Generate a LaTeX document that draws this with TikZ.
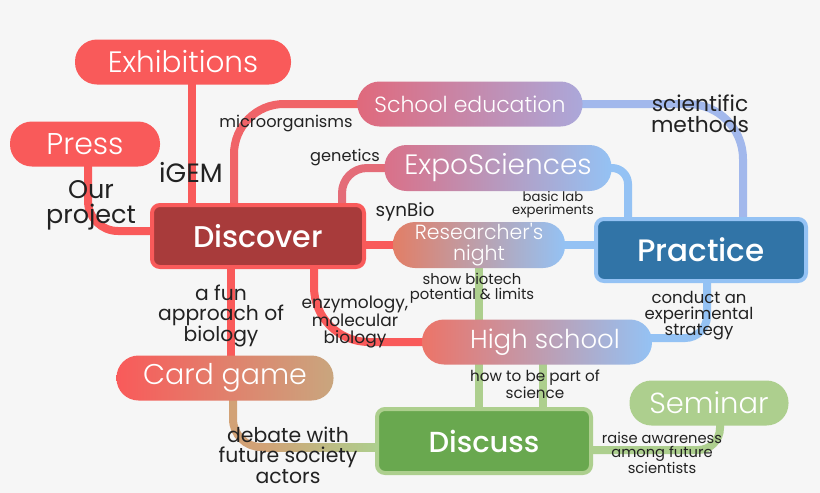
\documentclass[tikz,border=0pt]{standalone}
\usepackage{fontspec}
\usetikzlibrary{calc}
\IfFontExistsTF{Poppins Light}{\newfontfamily\fpl{Poppins Light}}{\newfontfamily\fpl{Poppins}}
\newfontfamily\fpr{Poppins}
\IfFontExistsTF{Poppins Medium}{\newfontfamily\fpm{Poppins Medium}}{\newfontfamily\fpm{Poppins}}
\newcommand\fsz[2]{\fontsize{#1}{#2}\selectfont}
\definecolor{bgc}{HTML}{F6F6F6}
\definecolor{cred}{HTML}{F95A5A}
\definecolor{cdred}{HTML}{A83B3B}
\definecolor{cschl}{HTML}{F06468}
\definecolor{cexpo}{HTML}{E46C78}
\definecolor{cblue}{HTML}{94C2F4}
\definecolor{cblue2}{HTML}{A2B8EC}
\definecolor{cdblue}{HTML}{3174A7}
\definecolor{cgreen}{HTML}{ADCF8E}
\definecolor{cdgreen}{HTML}{69A84F}
\definecolor{ccard}{HTML}{D2A276}
\definecolor{pinkl}{HTML}{E0697C}
\definecolor{lav}{HTML}{ABA8DA}
\definecolor{pinke}{HTML}{DA7088}
\definecolor{orng}{HTML}{E27E66}
\definecolor{orng2}{HTML}{EC7468}
\definecolor{tan}{HTML}{C9A67E}
\definecolor{labc}{HTML}{222222}
\pgfdeclarelayer{bg}
\pgfdeclarelayer{lines}
\pgfsetlayers{bg,lines,main}
\begin{document}
\begin{tikzpicture}[x=1pt,y=-1pt,
  pill/.style={rounded corners=22pt, minimum height=45pt, inner sep=0pt, text=white, font=\fpl\fsz{28}{30}},
  mainbox/.style={rounded corners=8pt, line width=4pt, inner sep=0pt, text=white, font=\fpm\fsz{30}{32}},
  lab/.style={text=labc, align=center, inner sep=0pt},
  conn/.style={line width=8pt}]
\begin{pgfonlayer}{bg}
\fill[bgc] (0,0) rectangle (820,493);
\end{pgfonlayer}
\useasboundingbox (0,0) rectangle (820,493);

% nodes
\node[pill, fill=cred, minimum width=216pt, font=\fpl\fsz{29.5}{30}] (exh) at (183,62) {Exhibitions};
\node[pill, fill=cred, minimum width=150pt, font=\fpl\fsz{30}{30}] (press) at (85,144) {Press};
\node[mainbox, fill=cdred, draw=cred, minimum width=212pt, minimum height=62pt] (disc) at (258,236) {Discover};
\node[pill, left color=pinkl, right color=lav, minimum width=225pt, font=\fpl\fsz{22}{24}] (school) at (470,104) {School education};
\node[pill, left color=pinke, right color=cblue, minimum width=227pt, minimum height=46pt] (expo) at (498,168) {ExpoSciences};
\node[pill, left color=orng, middle color=cgreen, right color=cblue, minimum width=172pt, minimum height=46pt, align=center, font=\fpl\fsz{20.5}{21}] (rn) at (479,245) {Researcher's\\night};
\node[mainbox, fill=cdblue, draw=cblue, minimum width=210pt, minimum height=62pt, font=\fpm\fsz{31}{32}] (prac) at (701,250) {Practice};
\node[pill, left color=orng2, middle color=cgreen, right color=cblue, minimum width=230pt, font=\fpl\fsz{26}{30}] (hs) at (537,342) {\hspace*{16pt}High school};
\node[pill, left color=cred, right color=tan, minimum width=217pt, font=\fpl\fsz{28.5}{30}] (card) at (225,378) {Card game};
\node[mainbox, fill=cdgreen, draw=cgreen, minimum width=214pt, minimum height=64pt, font=\fpm\fsz{29}{32}] (discuss) at (484,441) {Discuss};
\node[pill, fill=cgreen, minimum width=159pt, font=\fpl\fsz{29}{30}] (sem) at (709,403) {Seminar};

% labels
\node[lab, font=\fpr\fsz{16.2}{16}] (l1) at (286,124) {microorganisms};
\node[lab, font=\fpr\fsz{26.5}{25}] (l2) at (191,172) {iGEM};
\node[lab, font=\fpr\fsz{25.5}{25}] (l3) at (91,205) {Our\\project};
\node[lab, font=\fpr\fsz{16.2}{16}] (l4) at (345,158) {genetics};
\node[lab, font=\fpr\fsz{18.3}{18}] (l5) at (405,212) {synBio};
\node[lab, font=\fpr\fsz{21.8}{21}] (l6) at (700,114) {scientific\\methods};
\node[lab, font=\fpr\fsz{13.2}{13}] (l7) at (553,205) {basic lab\\experiments};
\node[lab, font=\fpr\fsz{14.8}{15}] (l8) at (472,288) {show biotech\\potential \& limits};
\node[lab, font=\fpr\fsz{20.3}{20}] (l9) at (221,316) {a fun\\approach of\\biology};
\node[lab, font=\fpr\fsz{17}{16.5}] (l10) at (355,322) {enzymology,\\molecular\\biology};
\node[lab, font=\fpr\fsz{16.5}{16}] (l11) at (699,316) {conduct an\\experimental\\strategy};
\node[lab, font=\fpr\fsz{15.2}{14}] (l12) at (535,384) {how to be part of\\science};
\node[lab, font=\fpr\fsz{20.4}{20.5}] (l13) at (288,455) {debate with\\future society\\actors};
\node[lab, font=\fpr\fsz{14.7}{14}] (l14) at (662,453) {raise awareness\\among future\\scientists};

% connectors
\begin{pgfonlayer}{lines}
\coordinate (c1) at ($(exh.center)+(9,0)$);
\draw[conn, cred] (c1) -- (c1 |- disc.center);
\coordinate (c2) at ($(press.center)+(3,0)$);
\draw[conn, cred, rounded corners=30pt] (c2) |- ($(disc.center)+(0,-5)$);
\coordinate (c3) at ($(disc.center)+(-24,0)$);
\draw[conn, cschl, rounded corners=50pt] (c3) |- (school.center);
\coordinate (c4) at ($(disc.center)+(84,0)$);
\draw[conn, cexpo, rounded corners=25pt] (c4) |- (expo.center);
\draw[conn, cred] (disc.center |- rn.center) -- (rn.center);
\coordinate (c5) at ($(disc.center)+(56,0)$);
\draw[conn, cred, rounded corners=55pt] (c5) |- (hs.center);
\coordinate (c6) at ($(disc.center)+(-27,0)$);
\draw[conn, cred] (c6) -- (c6 |- card.center);
\coordinate (c7) at ($(prac.center)+(42,0)$);
\draw[conn, cblue2, rounded corners=55pt] (school.center) -| (c7);
\coordinate (c8) at ($(prac.center)+(-73,0)$);
\draw[conn, cblue, rounded corners=16pt] (expo.center) -| (c8);
\draw[conn, cblue] (rn.center) -- (rn.center -| prac.center);
\draw[conn, cgreen] (rn.center) -- (rn.center |- discuss.center);
\coordinate (c9) at ($(hs.center)+(6,0)$);
\draw[conn, cgreen] (c9) -- (c9 |- discuss.center);
\coordinate (c10) at ($(prac.center)+(6,0)$);
\draw[conn, cblue, rounded corners=22pt] (c10) |- ($(hs.center)+(0,-4)$);
\coordinate (c11) at ($(card.center)+(8,0)$);
\coordinate (c11b) at ($(card.center)+(8,69)$);
\draw[conn, ccard, rounded corners=28pt] (c11) |- ($(discuss.center)+(0,6)$);
\shade[left color=ccard, right color=cgreen] ($(c11b)+(30,-4)$) rectangle ($(c11b -| discuss.west)+(4,4)$);
\coordinate (c12) at ($(sem.center)+(11,0)$);
\draw[conn, cgreen, rounded corners=22pt] ($(discuss.center)+(0,9)$) -| (c12);
\end{pgfonlayer}
\end{tikzpicture}
\end{document}
